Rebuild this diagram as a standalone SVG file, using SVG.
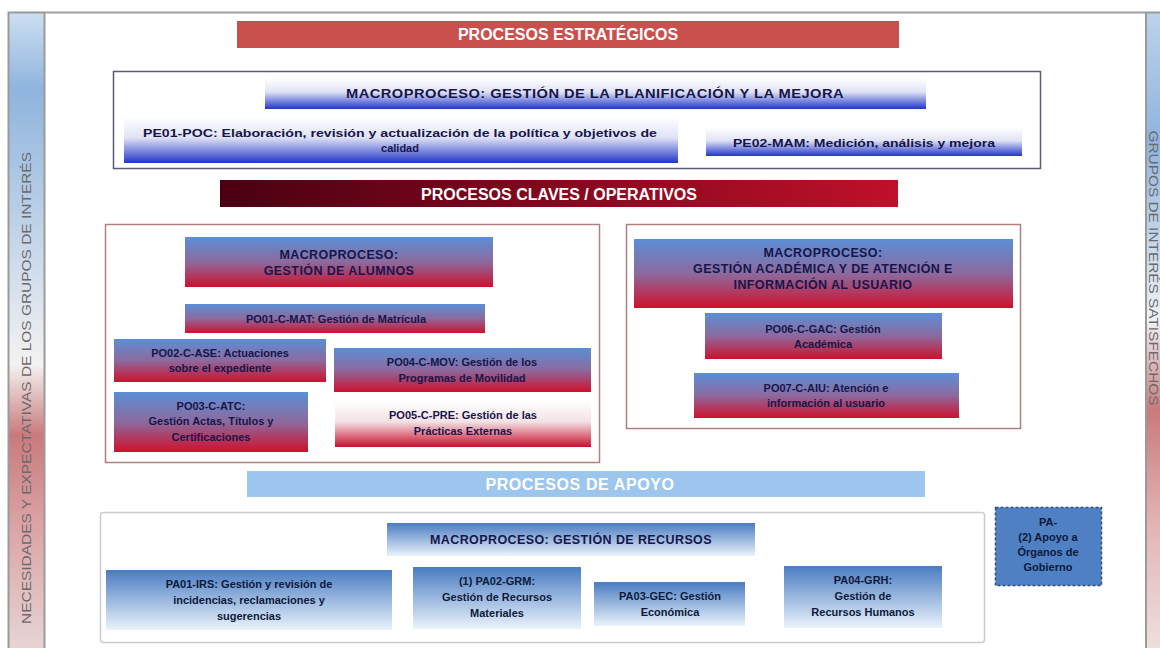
<svg xmlns="http://www.w3.org/2000/svg" width="1160" height="648" viewBox="0 0 1160 648">
<defs>
<linearGradient id="gLeft" x1="0" y1="0" x2="0" y2="1">
<stop offset="0" stop-color="#cddff0"/><stop offset="0.12" stop-color="#8fb4de"/><stop offset="0.35" stop-color="#c3d5e8"/><stop offset="0.55" stop-color="#f4f2f2"/><stop offset="0.66" stop-color="#c97a7c"/><stop offset="0.8" stop-color="#dba3a5"/><stop offset="1" stop-color="#e6d6d6"/>
</linearGradient>
<linearGradient id="gRight" x1="0" y1="0" x2="0" y2="1">
<stop offset="0" stop-color="#bcd3ea"/><stop offset="0.2" stop-color="#8fb4de"/><stop offset="0.48" stop-color="#eef2f6"/><stop offset="0.62" stop-color="#c97a7c"/><stop offset="0.8" stop-color="#e3b4b4"/><stop offset="1" stop-color="#efe0e0"/>
</linearGradient>
<linearGradient id="gPlan" x1="0" y1="0" x2="0" y2="1">
<stop offset="0" stop-color="#ffffff"/><stop offset="0.45" stop-color="#dfe2f5"/><stop offset="1" stop-color="#2236c8"/>
</linearGradient>
<linearGradient id="gBR" x1="0" y1="0" x2="0" y2="1">
<stop offset="0" stop-color="#5b8fd6"/><stop offset="0.5" stop-color="#8c6a9e"/><stop offset="1" stop-color="#d0102c"/>
</linearGradient>
<linearGradient id="gWR" x1="0" y1="0" x2="0" y2="1">
<stop offset="0" stop-color="#ffffff"/><stop offset="0.45" stop-color="#f3e2e4"/><stop offset="1" stop-color="#c8102e"/>
</linearGradient>
<linearGradient id="gKey" x1="0" y1="0" x2="1" y2="0">
<stop offset="0" stop-color="#4a0012"/><stop offset="1" stop-color="#c0102a"/>
</linearGradient>
<linearGradient id="gRec" x1="0" y1="0" x2="0" y2="1">
<stop offset="0" stop-color="#4a7cc2"/><stop offset="1" stop-color="#eaf3fb"/>
</linearGradient>
<style>
.t{font-family:"Liberation Sans",Arial,sans-serif;font-weight:bold;text-anchor:middle}
.band{font-size:16px;fill:#ffffff}
.dk{fill:#16164a;font-size:11px}
.mac{fill:#16164a;font-size:12.5px;letter-spacing:0.4px}
.bl{fill:#0e1a3a;font-size:11px}
.side{font-family:"Liberation Sans",Arial,sans-serif;font-size:12px;fill:#6a6a6a;text-anchor:middle}
</style>
</defs>
<rect width="1160" height="648" fill="#ffffff"/>
<line x1="45" y1="12.5" x2="1145" y2="12.5" stroke="#a0a0a0" stroke-width="2"/>
<g id="left-bar">
<rect x="8.5" y="12.5" width="36" height="640" fill="url(#gLeft)" stroke="#9a9a9a" stroke-width="2"/>
<text class="side" transform="translate(31,388) rotate(-90)" textLength="472" lengthAdjust="spacingAndGlyphs">NECESIDADES Y EXPECTATIVAS DE LOS GRUPOS DE INTERÉS</text>
</g>
<g id="right-bar">
<rect x="1146" y="12.5" width="20" height="640" fill="url(#gRight)" stroke="#9a9a9a" stroke-width="2"/>
<text class="side" transform="translate(1149,268) rotate(90)" font-size="10.5" textLength="275" lengthAdjust="spacingAndGlyphs">GRUPOS DE INTERÉS SATISFECHOS</text>
</g>
<g id="estrategicos">
<rect x="237" y="21" width="662" height="27" fill="#c9504c"/>
<text class="t band" x="568" y="40">PROCESOS ESTRATÉGICOS</text>
</g>
<g id="box-planificacion">
<rect x="113.5" y="71.5" width="927" height="97" fill="#ffffff" stroke="#5a5a78" stroke-width="1.5"/>
</g>
<g id="macro-planificacion">
<rect x="265" y="78" width="661" height="31" fill="url(#gPlan)"/>
<text class="t mac" x="595" y="98" textLength="498" lengthAdjust="spacingAndGlyphs">MACROPROCESO:  GESTIÓN DE LA PLANIFICACIÓN  Y LA MEJORA</text>
</g>
<g id="pe01">
<rect x="124" y="117" width="554" height="46" fill="url(#gPlan)"/>
<text class="t dk" x="400" y="137" textLength="514" lengthAdjust="spacingAndGlyphs">PE01-POC: Elaboración, revisión y actualización de la política y objetivos de</text>
<text class="t dk" x="400" y="152">calidad</text>
</g>
<g id="pe02">
<rect x="706" y="128" width="316" height="28" fill="url(#gPlan)"/>
<text class="t dk" x="864" y="147" textLength="262" lengthAdjust="spacingAndGlyphs">PE02-MAM: Medición, análisis y mejora</text>
</g>
<g id="claves">
<rect x="220" y="180" width="678" height="27" fill="url(#gKey)"/>
<text class="t band" x="559" y="200">PROCESOS CLAVES / OPERATIVOS</text>
</g>
<g id="box-alumnos">
<rect x="105.5" y="224.5" width="494" height="238" fill="#ffffff" stroke="#b08080" stroke-width="1.5"/>
</g>
<g id="macro-alumnos">
<rect x="185" y="237" width="308" height="50" fill="url(#gBR)"/>
<text class="t mac" x="339" y="259">MACROPROCESO:</text>
<text class="t mac" x="339" y="275">GESTIÓN DE ALUMNOS</text>
</g>
<g id="po01">
<rect x="185" y="304" width="300" height="29" fill="url(#gBR)"/>
<text class="t dk" x="336" y="323">PO01-C-MAT: Gestión de Matrícula</text>
</g>
<g id="po02">
<rect x="114" y="339" width="212" height="43" fill="url(#gBR)"/>
<text class="t dk" x="220" y="357">PO02-C-ASE: Actuaciones</text>
<text class="t dk" x="220" y="372">sobre el expediente</text>
</g>
<g id="po04">
<rect x="334" y="348" width="257" height="44" fill="url(#gBR)"/>
<text class="t dk" x="462" y="366">PO04-C-MOV: Gestión de los</text>
<text class="t dk" x="462" y="382">Programas de Movilidad</text>
</g>
<g id="po03">
<rect x="114" y="392" width="194" height="60" fill="url(#gBR)"/>
<text class="t dk" x="211" y="410">PO03-C-ATC:</text>
<text class="t dk" x="211" y="425">Gestión Actas, Títulos y</text>
<text class="t dk" x="211" y="441">Certificaciones</text>
</g>
<g id="po05">
<rect x="335" y="401" width="256" height="46" fill="url(#gWR)"/>
<text class="t dk" x="463" y="419">PO05-C-PRE: Gestión de las</text>
<text class="t dk" x="463" y="435">Prácticas Externas</text>
</g>
<g id="box-academica">
<rect x="626.5" y="224.5" width="394" height="204" fill="#ffffff" stroke="#b08080" stroke-width="1.5"/>
</g>
<g id="macro-academica">
<rect x="634" y="239" width="379" height="69" fill="url(#gBR)"/>
<text class="t mac" x="823" y="257">MACROPROCESO:</text>
<text class="t mac" x="823" y="273">GESTIÓN ACADÉMICA  Y DE ATENCIÓN E</text>
<text class="t mac" x="823" y="289">INFORMACIÓN  AL USUARIO</text>
</g>
<g id="po06">
<rect x="705" y="313" width="237" height="46" fill="url(#gBR)"/>
<text class="t dk" x="823" y="333">PO06-C-GAC: Gestión</text>
<text class="t dk" x="823" y="348">Académica</text>
</g>
<g id="po07">
<rect x="694" y="373" width="265" height="45" fill="url(#gBR)"/>
<text class="t dk" x="826" y="392">PO07-C-AIU: Atención e</text>
<text class="t dk" x="826" y="407">información al usuario</text>
</g>
<g id="apoyo">
<rect x="247" y="471" width="678" height="26" fill="#9dc6ee"/>
<text class="t band" x="580" y="490" letter-spacing="0.6">PROCESOS DE  APOYO</text>
</g>
<g id="box-recursos">
<rect x="100.5" y="512.5" width="884" height="130" rx="3" fill="#ffffff" stroke="#c8ccd0" stroke-width="1.5"/>
</g>
<g id="macro-recursos">
<rect x="387" y="523" width="368" height="33" fill="url(#gRec)"/>
<text class="t mac" x="571" y="544" fill="#0e1a3a">MACROPROCESO:  GESTIÓN DE RECURSOS</text>
</g>
<g id="pa01">
<rect x="106" y="570" width="286" height="60" fill="url(#gRec)"/>
<text class="t bl" x="249" y="588">PA01-IRS: Gestión y revisión de</text>
<text class="t bl" x="249" y="604">incidencias, reclamaciones y</text>
<text class="t bl" x="249" y="620">sugerencias</text>
</g>
<g id="pa02">
<rect x="413" y="567" width="168" height="62" fill="url(#gRec)"/>
<text class="t bl" x="497" y="585">(1) PA02-GRM:</text>
<text class="t bl" x="497" y="601">Gestión de Recursos</text>
<text class="t bl" x="497" y="617">Materiales</text>
</g>
<g id="pa03">
<rect x="594" y="582" width="151" height="44" fill="url(#gRec)"/>
<text class="t bl" x="670" y="600">PA03-GEC: Gestión</text>
<text class="t bl" x="670" y="616">Económica</text>
</g>
<g id="pa04">
<rect x="784" y="566" width="158" height="62" fill="url(#gRec)"/>
<text class="t bl" x="863" y="584">PA04-GRH:</text>
<text class="t bl" x="863" y="600">Gestión de</text>
<text class="t bl" x="863" y="616">Recursos Humanos</text>
</g>
<g id="pa-organos">
<rect x="995.5" y="507.5" width="106" height="78" fill="#4f80c4" stroke="#2f4f80" stroke-width="1.5" stroke-dasharray="3 2"/>
<text class="t bl" x="1048" y="526" font-size="10.5">PA-</text>
<text class="t bl" x="1048" y="541" font-size="10.5">(2) Apoyo  a</text>
<text class="t bl" x="1048" y="556" font-size="10.5">Órganos de</text>
<text class="t bl" x="1048" y="571" font-size="10.5">Gobierno</text>
</g>
<g id="connectors"></g>
</svg>
